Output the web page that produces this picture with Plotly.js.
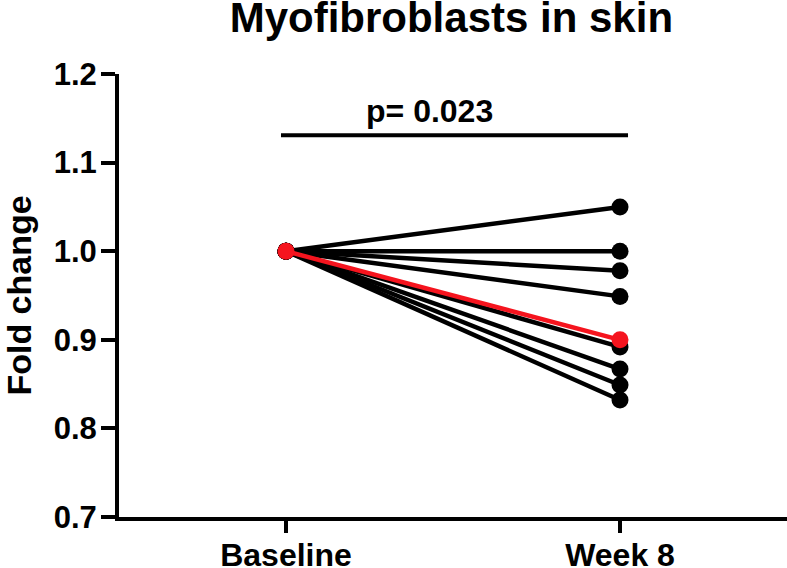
<!DOCTYPE html>
<html>
<head>
<meta charset="utf-8">
<script src="https://cdn.plot.ly/plotly-3.0.1.min.js"></script>
<style>html,body{margin:0;padding:0;background:#fff;}#chart{width:787px;height:568px;}</style>
</head>
<body>
<div id="chart"></div>
<script>
// ---- data ----
const categories = ["Baseline", "Week 8"];
const categoryPositions = [0, 1];
const blackBaseline = [1.0, 1.0, 1.0, 1.0, 1.0, 1.0, 1.0, 1.0];
const blackWeek8 = [1.05, 1.0, 0.978, 0.949, 0.892, 0.867, 0.849, 0.832];
const redBaseline = [1.0];
const redWeek8 = [0.90];
const yTickValues = [0.7, 0.8, 0.9, 1.0, 1.1, 1.2];
const pValueText = "p= 0.023";
const pValueX = 0.43;
const bracketY = 1.131;
const bracketX = [-0.015, 1.024];
const titleText = "Myofibroblasts in skin";
const yTitleText = "Fold change";

const FONT = "Liberation Sans, Arial, Helvetica, sans-serif";

const traces = [];
function addSubject(b, w, color) {
  traces.push({
    x: categoryPositions,
    y: [b, w],
    type: "scatter",
    mode: "lines+markers",
    line: {color: color, width: 4.5},
    marker: {color: color, size: 17},
    showlegend: false,
    hoverinfo: "skip"
  });
}
for (let i = 0; i < blackWeek8.length; i++) addSubject(blackBaseline[i], blackWeek8[i], "#000000");
for (let i = 0; i < redWeek8.length; i++) addSubject(redBaseline[i], redWeek8[i], "#f5141e");

const layout = {
  width: 787,
  height: 568,
  margin: {l: 119, r: 0, t: 74, b: 51},
  paper_bgcolor: "#fff",
  plot_bgcolor: "#fff",
  font: {family: FONT, color: "#000", weight: "bold"},
  title: {
    text: titleText,
    font: {family: FONT, size: 42, color: "#000", weight: "bold"},
    x: 0.5735, xanchor: "center", xref: "container",
    y: 0.995, yanchor: "top", yref: "container"
  },
  xaxis: {
    range: [-0.5, 1.5],
    tickvals: categoryPositions,
    ticktext: categories,
    showgrid: false, zeroline: false,
    showline: true, linecolor: "#000", linewidth: 4,
    ticks: "outside", ticklen: 12, tickwidth: 4, tickcolor: "#000",
    ticklabelstandoff: -5,
    tickfont: {family: FONT, size: 32, color: "#000", weight: "bold"},
    fixedrange: true
  },
  yaxis: {
    range: [0.7, 1.2],
    tickvals: yTickValues,
    tickformat: ".1f",
    showgrid: false, zeroline: false,
    showline: true, linecolor: "#000", linewidth: 4,
    ticks: "outside", ticklen: 14, tickwidth: 4, tickcolor: "#000",
    ticklabelstandoff: -2,
    tickfont: {family: FONT, size: 31, color: "#000", weight: "bold"},
    title: {text: yTitleText, font: {family: FONT, size: 34, color: "#000", weight: "bold"}, standoff: 14},
    fixedrange: true
  },
  shapes: [{
    type: "line", xref: "x", yref: "y",
    x0: bracketX[0], x1: bracketX[1], y0: bracketY, y1: bracketY,
    line: {color: "#000", width: 4}
  }],
  annotations: [{
    xref: "x", yref: "y",
    x: pValueX, y: bracketY,
    yanchor: "bottom", yshift: 4,
    text: pValueText, showarrow: false,
    font: {family: FONT, size: 32, color: "#000", weight: "bold"}
  }]
};

Plotly.newPlot("chart", traces, layout, {displayModeBar: false, staticPlot: true});
</script>
</body>
</html>
